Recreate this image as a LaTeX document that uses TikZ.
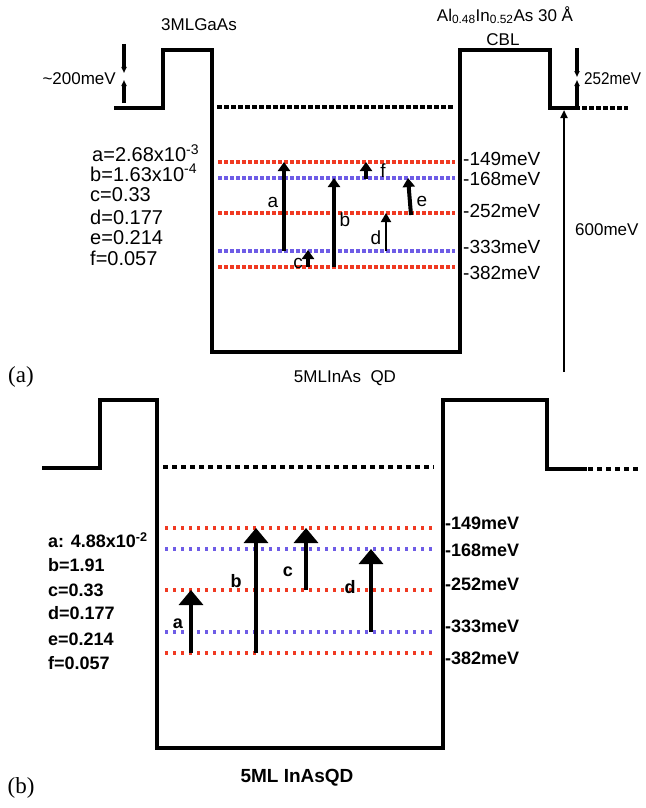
\documentclass[tikz,border=0pt]{standalone}
\usepackage{fontspec}
\setmainfont{Liberation Sans}
\newfontfamily\panelfont{Liberation Serif}
\usepackage{tikz}
\usetikzlibrary{arrows.meta}
\definecolor{LevelRed}{HTML}{F03A22}
\definecolor{LevelBlue}{HTML}{6E5CE6}

\begin{document}
\begin{tikzpicture}[x=1pt,y=-1pt,
    wall/.style={line width=3.6pt,line join=miter,line cap=rect},
    lvtop/.style={line width=4.5pt,dash pattern=on 5pt off 2pt},
    lvred/.style={LevelRed,line width=4pt,dash pattern=on 4pt off 2pt},
    lvblue/.style={LevelBlue,line width=4pt,dash pattern=on 4pt off 2pt},
    lvredb/.style={LevelRed,line width=3.5pt,dash pattern=on 3pt off 5pt},
    lvblueb/.style={LevelBlue,line width=3.5pt,dash pattern=on 3pt off 5pt},
    ar/.style={-{Triangle[width=12pt,length=9pt]},line width=4pt},
    arthin/.style={-{Triangle[width=10pt,length=9pt]},line width=1.8pt},
    arb/.style={-{Triangle[width=24pt,length=15pt]},line width=3.5pt},
    tick/.style={-{Triangle[width=5pt,length=6pt]},line width=4.5pt},
    txa/.style={font=\fontsize{17}{20}\selectfont,inner sep=0pt},
    txl/.style={font=\fontsize{19}{22}\selectfont,inner sep=0pt},
    txk/.style={font=\fontsize{20}{23}\selectfont,inner sep=0pt},
    txb/.style={font=\fontsize{18}{21}\selectfont\bfseries,inner sep=0pt}]
  \useasboundingbox (0,0) rectangle (645,808);

  % ---------- panel (a)
  \draw[wall] (116,108) -- (163,108) -- (163,50) -- (212,50) -- (212,352)
    -- (460,352) -- (460,50) -- (550,50) -- (550,108) -- (578,108);
  \draw[lvtop] (217,107) -- (453,107);
  \draw[lvtop] (582,108) -- (628,108);
  \draw[lvred]  (218,162) -- (455,162);
  \draw[lvblue] (218,178) -- (455,178);
  \draw[lvred]  (218,213) -- (455,213);
  \draw[lvblue] (218,251) -- (455,251);
  \draw[lvred]  (218,267) -- (455,267);
  % barrier heights
  \draw[tick] (124,44) -- (124,73);
  \draw[tick] (124,103) -- (124,80);
  \draw[tick] (577,48) -- (577,77);
  \draw[tick] (577,108) -- (577,80);
  \draw[-{Triangle[width=7pt,length=8pt]},line width=2.5pt] (564,372) -- (564,110);
  % transitions
  \draw[ar] (284,251) -- (284,162);
  \draw[ar] (308,267) -- (308,250);
  \draw[ar] (334,267) -- (334,178);
  \draw[ar] (366,179) -- (366,162);
  \draw[arthin] (386,251) -- (386,213);
  \draw[ar] (411,215) -- (408,178);

  \node[txa] (ga)   at (199,25) {3MLGaAs};
  \node[txa] (cbl1) at (505,15) {Al\textsubscript{0.48}In\textsubscript{0.52}As 30 Å};
  \node[txa] (cbl2) at (503,40) {CBL};
  \node[txa,anchor=east] (h200) at (116,79) {\textasciitilde200meV};
  \node[txa,anchor=west] (h252) at (584,79) {\scalebox{0.9}[1]{252meV}};
  \node[txa,anchor=west] (h600) at (575,230) {600meV};
  \node[txa] (qda)  at (345,378) {5MLInAs\ \ QD};
  \node[font=\panelfont\fontsize{23}{26}\selectfont,inner sep=0pt] (pa) at (21,377) {(a)};

  \foreach \t/\y [count=\i] in {-149/159,-168/179,-252/211,-333/247,-382/273}
    \node[txl,anchor=west] (ea\i) at (463,\y) {\t meV};

  \node[txk,anchor=west] (ka) at (92,153) {a=2.68x10\textsuperscript{-3}};
  \node[txk,anchor=west] (kb) at (90,173) {b=1.63x10\textsuperscript{-4}};
  \node[txk,anchor=west] (kc) at (90,195) {c=0.33};
  \node[txk,anchor=west] (kd) at (90,217) {d=0.177};
  \node[txk,anchor=west] (ke) at (90,238) {e=0.214};
  \node[txk,anchor=west] (kf) at (90,258) {f=0.057};

  \node[txl] (la) at (273,202) {a};
  \node[txl] (lc) at (298,263) {c};
  \node[txl] (lb) at (345,220) {b};
  \node[txl] (lf) at (383,171) {f};
  \node[txl] (ld) at (376,238) {d};
  \node[txl] (le) at (422,201) {e};

  % ---------- panel (b)
  \draw[wall] (44,468) -- (100,468) -- (100,400) -- (157,400) -- (157,748)
    -- (443,748) -- (443,400) -- (547,400) -- (547,469) -- (585,469);
  \draw[lvtop,line width=4pt,dash pattern=on 5pt off 4pt] (163,467) -- (434,467);
  \draw[lvtop,line width=4pt,dash pattern=on 5pt off 4pt] (588,469) -- (641,469);
  \draw[lvredb]  (165,528) -- (436,528);
  \draw[lvblueb] (165,549) -- (436,549);
  \draw[lvredb]  (165,590) -- (436,590);
  \draw[lvblueb] (165,632) -- (436,632);
  \draw[lvredb]  (165,653) -- (436,653);

  \draw[arb] (191,653) -- (191,590);
  \draw[arb] (256,653) -- (256,528);
  \draw[arb] (306,590) -- (306,528);
  \draw[arb] (371,632) -- (371,549);

  \node[txb] (ta) at (178,624) {a};
  \node[txb] (tb) at (236,581) {b};
  \node[txb] (tc) at (288,572) {c};
  \node[txb] (td) at (350,587) {d};

  \foreach \t/\y [count=\i] in {-149/523,-168/550,-252/584,-333/626,-382/658}
    \node[txb,anchor=west] (eb\i) at (445,\y) {\t meV};

  \node[txb,anchor=west] (ma) at (48,540) {a: 4.88x10\textsuperscript{-2}};
  \node[txb,anchor=west] (mb) at (48,565) {b=1.91};
  \node[txb,anchor=west] (mc) at (48,590) {c=0.33};
  \node[txb,anchor=west] (md) at (48,613) {d=0.177};
  \node[txb,anchor=west] (me) at (48,639) {e=0.214};
  \node[txb,anchor=west] (mf) at (48,663) {f=0.057};

  \node[txb,font=\fontsize{19}{22}\selectfont\bfseries] (qdb) at (297,778) {5ML InAsQD};
  \node[font=\panelfont\fontsize{23}{26}\selectfont,inner sep=0pt] (pb) at (21,788) {(b)};
\end{tikzpicture}
\end{document}
